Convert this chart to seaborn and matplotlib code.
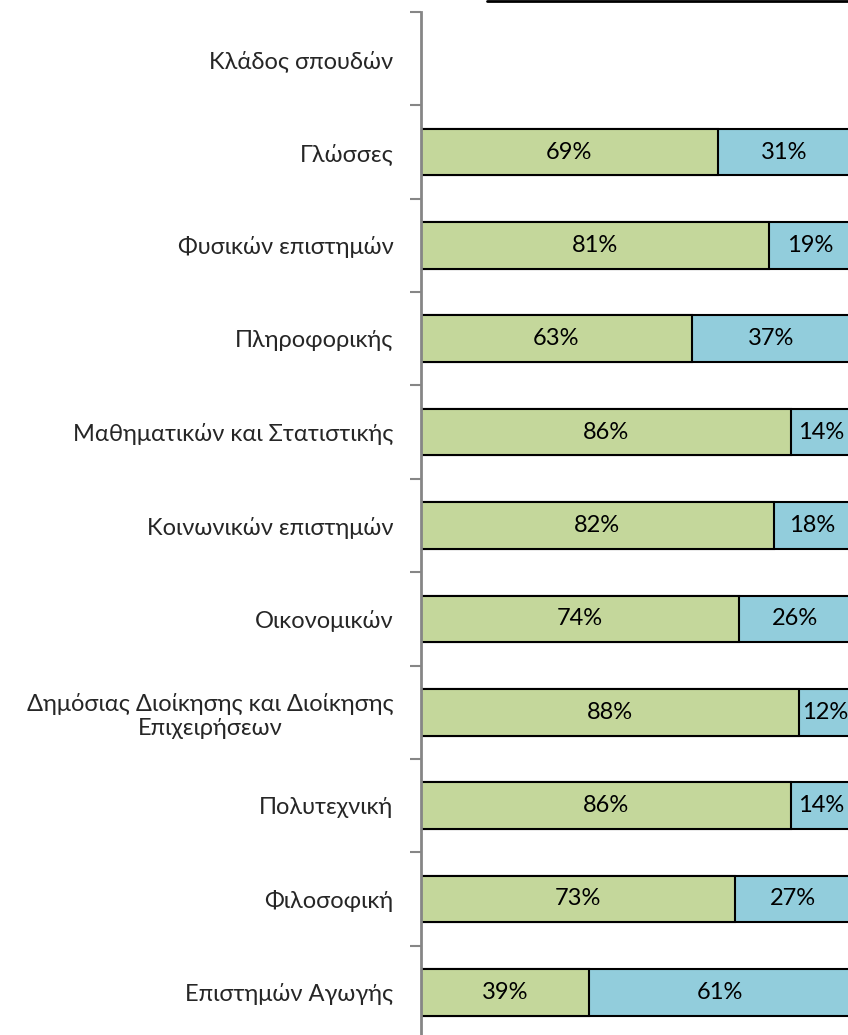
import matplotlib
matplotlib.use("Agg")
import matplotlib.pyplot as plt
import matplotlib.lines as mlines
import pandas as pd
import seaborn as sns

# categories (top to bottom); the first one is a header row with no bar
categories = [
    "Κλάδος σπουδών",
    "Γλώσσες",
    "Φυσικών επιστημών",
    "Πληροφορικής",
    "Μαθηματικών και Στατιστικής",
    "Κοινωνικών επιστημών",
    "Οικονομικών",
    "Δημόσιας Διοίκησης και Διοίκησης\nΕπιχειρήσεων",
    "Πολυτεχνική",
    "Φιλοσοφική",
    "Επιστημών Αγωγής",
]
green_pct = [69, 81, 63, 86, 82, 74, 88, 86, 73, 39]
blue_pct = [31, 19, 37, 14, 18, 26, 12, 14, 27, 61]

GREEN = "#C4D79B"
BLUE = "#92CDDC"
FONT = ["Lato", "DejaVu Sans"]

df = pd.DataFrame({
    "category": categories[1:],
    "green": green_pct,
    "blue": blue_pct,
})
df["total"] = df["green"] + df["blue"]

sns.set_style("white")
plt.rcParams["font.family"] = FONT

fig = plt.figure(figsize=(8.48, 10.35), dpi=100)
ax = fig.add_axes([0.4965, -0.0039, 0.507, 0.9923])

# blue = full bar, green drawn over it
sns.barplot(data=df, x="total", y="category", order=categories, color=BLUE,
            width=0.5, edgecolor="black", linewidth=1.5, saturation=1, ax=ax)
sns.barplot(data=df, x="green", y="category", order=categories, color=GREEN,
            width=0.5, edgecolor="black", linewidth=1.5, saturation=1, ax=ax)

# value labels
for i, (g, b) in enumerate(zip(green_pct, blue_pct), start=1):
    ax.text(g / 2, i, f"{g}%", ha="center", va="center", fontsize=17, color="black")
    ax.text(g + b / 2, i, f"{b}%", ha="center", va="center", fontsize=17, color="black")

ax.set_xlim(0, 100)
ax.set_ylim(len(categories) - 0.5, -0.5)
ax.set_xlabel("")
ax.set_ylabel("")
ax.set_xticks([])

ax.set_yticks(range(len(categories)))
ax.set_yticklabels(categories, fontsize=17, multialignment="center")
ax.set_yticks([i - 0.5 for i in range(len(categories) + 1)], minor=True)
ax.tick_params(axis="y", which="major", length=0, pad=20)
ax.tick_params(axis="y", which="minor", length=8, width=1.5, color="#868686", left=True)

for side in ["top", "right", "bottom"]:
    ax.spines[side].set_visible(False)
ax.spines["left"].set_color("#868686")
ax.spines["left"].set_linewidth(2)

# border line at the top edge
fig.add_artist(mlines.Line2D([487 / 848, 1], [0.999, 0.999], color="black", linewidth=2))

fig.savefig("out.png", dpi=100)
